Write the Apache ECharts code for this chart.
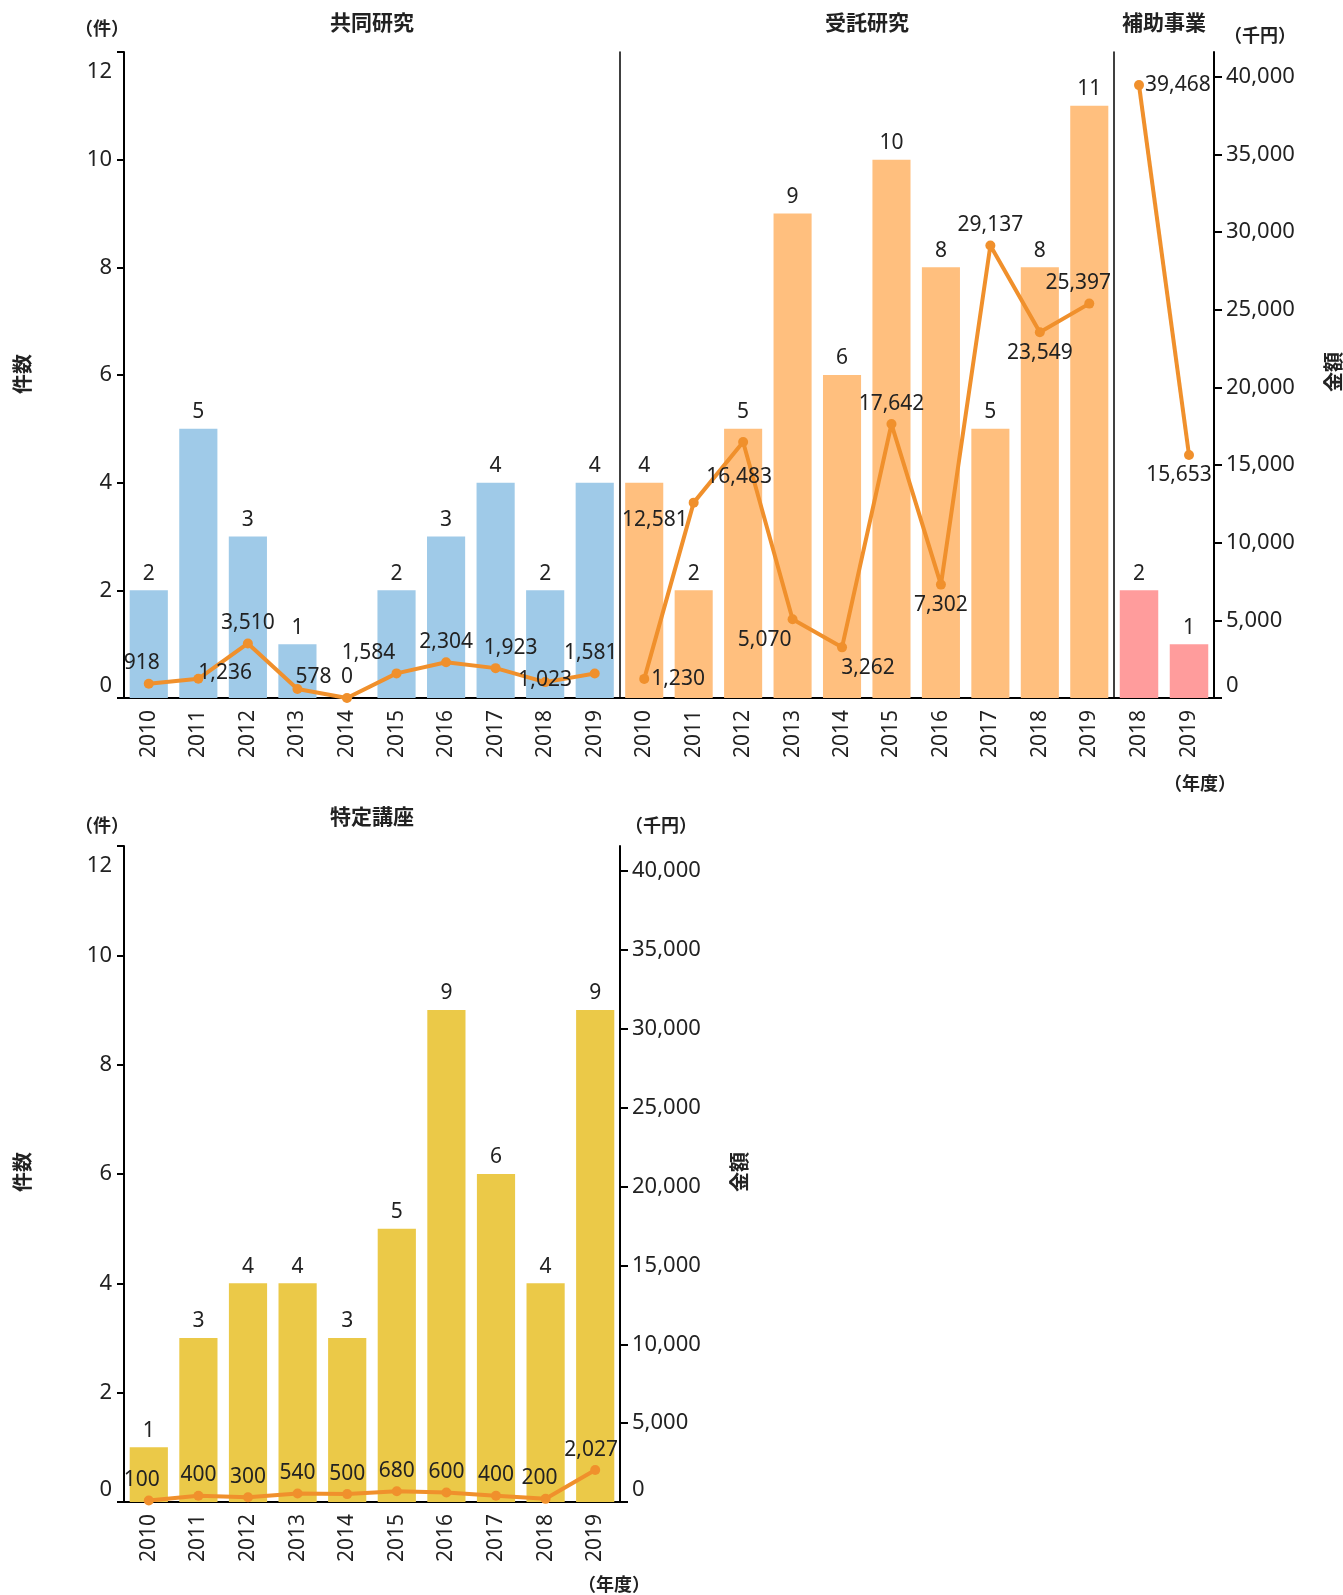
<!DOCTYPE html>
<html>
<head>
<meta charset="utf-8">
<script src="https://cdn.jsdelivr.net/npm/echarts@6/dist/echarts.min.js"></script>
<style>
  html, body { margin: 0; padding: 0; background: #fff; }
  #main { width: 1343px; height: 1595px; }
</style>
</head>
<body>
<div id="main"></div>
<script>
// 年度
const years = ['2010', '2011', '2012', '2013', '2014', '2015', '2016', '2017', '2018', '2019']
const subsidyYears = ['2018', '2019']

// 共同研究
const jointCount = [2, 5, 3, 1, 0, 2, 3, 4, 2, 4]
const jointAmount = [918, 1236, 3510, 578, 0, 1584, 2304, 1923, 1023, 1581]
// 受託研究
const contractCount = [4, 2, 5, 9, 6, 10, 8, 5, 8, 11]
const contractAmount = [1230, 12581, 16483, 5070, 3262, 17642, 7302, 29137, 23549, 25397]
// 補助事業
const subsidyCount = [2, 1]
const subsidyAmount = [39468, 15653]
// 特定講座
const courseCount = [1, 3, 4, 4, 3, 5, 9, 6, 4, 9]
const courseAmount = [100, 400, 300, 540, 500, 680, 600, 400, 200, 2027]

// 金額ラベルの位置 [position, dx, dy]
const jointLabelPos = [['top', -7, 0], ['right', -10, -6], ['top', 0, 0], ['right', -12, -12], ['top', 0, 0],
  ['top', -28, 0], ['top', 0, 0], ['top', 15, 0], ['inside', 0, -2], ['top', -4, 0]]
const contractLabelPos = [['right', -3, 0], ['left', 4, 17], ['bottom', -4, 14], ['bottom', -28, 0], ['bottom', 26, 0],
  ['top', 0, 0], ['bottom', 0, 0], ['top', 0, 0], ['bottom', 0, 0], ['top', -11, 0]]
const subsidyLabelPos = [['right', -4, 0], ['bottom', -10, 0]]
const courseLabelPos = [['top', -7, 0], ['top', 0, 0], ['top', 0, 0], ['top', 0, 0], ['top', 0, 0],
  ['top', 0, 0], ['top', 0, 0], ['top', 0, 0], ['top', -6, 0], ['top', -4, 0]]

const FONT = '"Noto Sans CJK JP", "Noto Sans", sans-serif'
const NUM_FONT = '"Noto Sans", "Noto Sans CJK JP", sans-serif'
const TEXT = '#222'
const LINE_COLOR = '#F0902C'
const COUNT_MAX = 12
const AMOUNT_MAX = 41600

const fmt = (v) => Number(v).toLocaleString('en-US')

// 軸の端のラベルは目盛りの内側へ
const edgeRich = {
  hi: { fontSize: 22, fontFamily: NUM_FONT, color: TEXT, lineHeight: 40 },
  lo: { fontSize: 22, fontFamily: NUM_FONT, color: TEXT, lineHeight: 24 },
}

const withLabels = (values, pos) => values.map((v, i) => ({
  value: v,
  label: { position: pos[i][0], offset: [pos[i][1], pos[i][2]] },
}))

const countAxis = (gridIndex, shown, lineWidth) => ({
  type: 'value',
  gridIndex,
  position: 'left',
  min: 0,
  max: COUNT_MAX,
  interval: 2,
  axisLine: { show: true, lineStyle: { color: '#000', width: lineWidth } },
  axisTick: { show: shown, length: 7, lineStyle: { color: '#000', width: 2 } },
  axisLabel: {
    show: shown,
    margin: 12,
    color: TEXT,
    fontSize: 22,
    fontFamily: NUM_FONT,
    verticalAlignMinLabel: 'bottom',
    verticalAlignMaxLabel: 'top',
    rich: edgeRich,
    formatter: (v) => (v === COUNT_MAX ? '{hi|' + v + '}' : v === 0 ? '{lo|0}' : String(v)),
  },
  splitLine: { show: false },
})

const amountAxis = (gridIndex, shown) => ({
  type: 'value',
  gridIndex,
  position: 'right',
  show: shown,
  min: 0,
  max: AMOUNT_MAX,
  interval: 5000,
  axisLine: { show: true, lineStyle: { color: '#000', width: 2 } },
  axisTick: { show: true, length: 8, lineStyle: { color: '#000', width: 2 } },
  axisLabel: {
    margin: 12,
    color: TEXT,
    fontSize: 22,
    fontFamily: NUM_FONT,
    showMaxLabel: false,
    verticalAlignMinLabel: 'bottom',
    rich: edgeRich,
    formatter: (v) => (v === 0 ? '{lo|0}' : fmt(v)),
  },
  splitLine: { show: false },
})

const yearAxis = (gridIndex, data) => ({
  type: 'category',
  gridIndex,
  data,
  axisLine: { show: true, lineStyle: { color: '#000', width: 2 } },
  axisTick: { show: false },
  axisLabel: { rotate: 90, interval: 0, margin: 12, color: TEXT, fontSize: 21, fontFamily: NUM_FONT },
})

const barSeries = (xi, yi, data, color) => ({
  type: 'bar',
  xAxisIndex: xi,
  yAxisIndex: yi,
  data,
  barCategoryGap: '23%',
  itemStyle: { color },
  label: {
    show: true,
    position: 'top',
    distance: 6,
    color: TEXT,
    fontSize: 21,
    fontFamily: NUM_FONT,
    formatter: (p) => (p.value ? p.value : ''),
  },
})

const lineSeries = (xi, yi, values, pos) => ({
  type: 'line',
  xAxisIndex: xi,
  yAxisIndex: yi,
  z: 5,
  data: withLabels(values, pos),
  symbol: 'circle',
  symbolSize: 10,
  lineStyle: { color: LINE_COLOR, width: 4 },
  itemStyle: { color: LINE_COLOR },
  label: {
    show: true,
    color: TEXT,
    fontSize: 21,
    fontFamily: NUM_FONT,
    formatter: (p) => fmt(p.value),
  },
})

const text = (x, y, str, size) => ({
  type: 'text',
  x,
  y,
  style: {
    text: str,
    fill: TEXT,
    font: 'bold ' + size + 'px ' + FONT,
    align: 'center',
    verticalAlign: 'middle',
  },
})

const vtext = (x, y, str) => ({
  type: 'text',
  x,
  y,
  rotation: Math.PI / 2,
  style: {
    text: str,
    fill: TEXT,
    font: 'bold 20px ' + FONT,
    align: 'center',
    verticalAlign: 'middle',
  },
})

const chart = echarts.init(document.getElementById('main'))

chart.setOption({
  animation: false,
  backgroundColor: '#fff',
  textStyle: { fontFamily: FONT },
  grid: [
    { left: 124, top: 52, width: 495.5, height: 646, outerBoundsMode: 'none' },
    { left: 619.5, top: 52, width: 494.5, height: 646, outerBoundsMode: 'none' },
    { left: 1114, top: 52, width: 100, height: 646, outerBoundsMode: 'none' },
    { left: 124, top: 846, width: 496, height: 656, outerBoundsMode: 'none' },
  ],
  xAxis: [
    yearAxis(0, years),
    yearAxis(1, years),
    yearAxis(2, subsidyYears),
    yearAxis(3, years),
  ],
  yAxis: [
    countAxis(0, true, 2),
    amountAxis(0, false),
    countAxis(1, false, 1.5),
    amountAxis(1, false),
    countAxis(2, false, 1.5),
    amountAxis(2, true),
    countAxis(3, true, 2),
    amountAxis(3, true),
  ],
  series: [
    barSeries(0, 0, jointCount, '#9FCAE8'),
    barSeries(1, 2, contractCount, '#FFBF7E'),
    barSeries(2, 4, subsidyCount, '#FF9C9C'),
    barSeries(3, 6, courseCount, '#EBC948'),
    lineSeries(0, 1, jointAmount, jointLabelPos),
    lineSeries(1, 3, contractAmount, contractLabelPos),
    lineSeries(2, 5, subsidyAmount, subsidyLabelPos),
    lineSeries(3, 7, courseAmount, courseLabelPos),
  ],
  graphic: [
    text(372, 22, '共同研究', 21),
    text(867, 22, '受託研究', 21),
    text(1164, 22, '補助事業', 21),
    text(372, 816, '特定講座', 21),
    text(102, 28, '（件）', 18),
    text(1260, 35, '（千円）', 18),
    text(1200, 783, '（年度）', 18),
    text(102, 825, '（件）', 18),
    text(661, 825, '（千円）', 18),
    text(614, 1584, '（年度）', 18),
    vtext(22, 374, '件数'),
    vtext(1333, 372, '金額'),
    vtext(22, 1172, '件数'),
    vtext(739, 1172, '金額'),
  ],
})
</script>
</body>
</html>
